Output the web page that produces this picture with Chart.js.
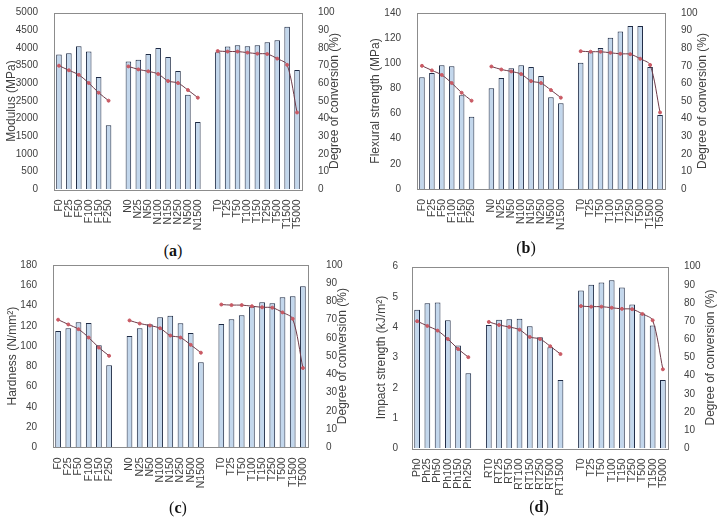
<!DOCTYPE html>
<html lang="en">
<head>
<meta charset="UTF-8">
<title>Degree of conversion vs. mechanical properties</title>
<script src="https://cdn.jsdelivr.net/npm/chart.js"></script>
<style>
body { margin: 0; background: #fff; width: 726px; height: 519px; position: relative; overflow: hidden; }
canvas { position: absolute; }
.cap { position: absolute; font-family: "Liberation Serif", serif; font-size: 16px; line-height: 18px; transform: translateX(-50%); color: #111; }
</style>
</head>
<body>

<canvas id="chartA" width="363" height="240" style="left:0;top:0"></canvas>
<canvas id="chartB" width="363" height="240" style="left:363px;top:0"></canvas>
<canvas id="chartC" width="363" height="240" style="left:0;top:260px"></canvas>
<canvas id="chartD" width="363" height="240" style="left:363px;top:260px"></canvas>

<div class="cap" style="left:173px;top:242px">(<b>a</b>)</div>
<div class="cap" style="left:526px;top:239px">(<b>b</b>)</div>
<div class="cap" style="left:178px;top:499px">(<b>c</b>)</div>
<div class="cap" style="left:539px;top:498px">(<b>d</b>)</div>

<script>

// sample groups
const groupF = ["F0", "F25", "F50", "F100", "F150", "F250"];
const groupN = ["N0", "N25", "N50", "N100", "N150", "N250", "N500", "N1500"];
const groupT = ["T0", "T25", "T50", "T100", "T150", "T250", "T500", "T1500", "T5000"];
const groupPh = ["Ph0", "Ph25", "Ph50", "Ph100", "Ph150", "Ph250"];
const groupRT = ["RT0", "RT25", "RT50", "RT100", "RT150", "RT250", "RT500", "RT1500"];

// degree of conversion (%), same for every panel
const docF = [70, 67.4, 64.8, 60.2, 54.7, 50.2];
const docN = [69.6, 67.9, 66.8, 65.3, 61.3, 60.2, 56.2, 51.9];
const docT = [78.3, 78, 78, 77.4, 76.8, 76.6, 74, 70.5, 43.5];

// (a) modulus, MPa
const modulusF = [3820, 3850, 4050, 3900, 3180, 1810];
const modulusN = [3620, 3670, 3830, 4000, 3745, 3350, 2680, 1905];
const modulusT = [3880, 4040, 4075, 4050, 4075, 4160, 4220, 4605, 3380];

// (b) flexural strength, MPa
const flexF = [88.8, 92.3, 98.4, 97.6, 74.5, 57.5];
const flexN = [80.1, 88.3, 96, 98.4, 97, 89.9, 72.9, 68.2];
const flexT = [100.5, 108.7, 112.2, 120.4, 125.2, 129.7, 129.7, 97, 58.9];

// (c) hardness, N/mm2
const hardF = [114.8, 117.5, 123.4, 122.7, 100.7, 80.9];
const hardN = [109.9, 117.5, 121.4, 128.3, 130, 122.4, 112.9, 83.9];
const hardT = [121.8, 126.4, 130.3, 138.9, 143.1, 142.2, 148.1, 149.1, 158.9];

// (d) impact strength, kJ/m2
const impactPh = [4.58, 4.79, 4.82, 4.23, 3.40, 2.48];
const impactRT = [4.07, 4.25, 4.26, 4.28, 4.03, 3.67, 3.34, 2.26];
const impactT = [5.21, 5.40, 5.48, 5.55, 5.31, 4.75, 4.45, 4.06, 2.26];


// three groups with one empty slot between them
function join3(a, b, c, gap) {
    return [...a, gap, ...b, gap, ...c];
}

const TICK_FONT = { family: "Liberation Sans, Arial, sans-serif", size: 10 };
const TITLE_FONT = { family: "Liberation Sans, Arial, sans-serif", size: 12 };
const TEXT = "#404040";

function makePanel(id, cats, bars, yMax, yStep, yTitle, geo) {
    const canvas = document.getElementById(id);
    const W = canvas.width, H = canvas.height;

    const framePlugin = {
        id: "frame" + id,
        afterDraw(chart) {
            const a = chart.chartArea, c = chart.ctx;
            c.save();
            c.strokeStyle = "#8c8c8c";
            c.lineWidth = 1;
            c.strokeRect(Math.round(a.left) + 0.5, Math.round(a.top) + 0.5,
                Math.round(a.right - a.left), Math.round(a.bottom - a.top));
            // right axis title reads bottom to top
            c.translate(geo.rTitleX, (a.top + a.bottom) / 2);
            c.rotate(-Math.PI / 2);
            c.font = "12px 'Liberation Sans', Arial, sans-serif";
            c.fillStyle = TEXT;
            c.textAlign = "center";
            c.textBaseline = "middle";
            c.fillText("Degree of conversion (%)", 0, 0);
            c.restore();
        }
    };

    new Chart(canvas, {
        data: {
            labels: cats,
            datasets: [
                {
                    type: "line",
                    data: join3(docF, docN, docT, null),
                    yAxisID: "y1",
                    borderColor: "#6e3a48",
                    borderWidth: 1,
                    pointRadius: 1.5,
                    pointBackgroundColor: "#c95a64",
                    pointBorderColor: "#c95a64",
                    tension: 0.3,
                    spanGaps: false,
                    order: 0
                },
                {
                    type: "bar",
                    data: bars,
                    yAxisID: "y",
                    backgroundColor: "#c3d7ec",
                    borderColor: "#1e2b45",
                    borderWidth: 1,
                    barPercentage: 0.56,
                    categoryPercentage: 1,
                    order: 1
                }
            ]
        },
        options: {
            responsive: false,
            animation: false,
            layout: { padding: { top: geo.top, left: 0, right: 0, bottom: 0 } },
            plugins: { legend: { display: false }, tooltip: { enabled: false } },
            scales: {
                x: {
                    grid: { display: false },
                    border: { display: false },
                    ticks: {
                        autoSkip: false, minRotation: 90, maxRotation: 90,
                        padding: 2, color: TEXT, font: { ...TICK_FONT, size: 10.5 }
                    },
                    afterFit: s => { s.height = H - geo.bottom; s.paddingLeft = 0; s.paddingRight = 0; }
                },
                y: {
                    position: "left",
                    min: 0, max: yMax,
                    grid: { display: false },
                    border: { display: false },
                    ticks: { stepSize: yStep, padding: geo.lTickPad, color: TEXT, font: TICK_FONT, callback: v => String(v) },
                    title: {
                        display: true, text: yTitle, color: TEXT, font: TITLE_FONT,
                        padding: { top: geo.lTitlePad, bottom: 0 }
                    },
                    afterFit: s => { s.width = geo.left; s.paddingTop = 0; s.paddingBottom = 0; }
                },
                y1: {
                    position: "right",
                    min: 0, max: 100,
                    grid: { display: false },
                    border: { display: false },
                    ticks: { stepSize: 10, padding: geo.rTickPad, color: TEXT, font: TICK_FONT, callback: v => String(v) },
                    afterFit: s => { s.width = W - geo.right; s.paddingTop = 0; s.paddingBottom = 0; }
                }
            }
        },
        plugins: [framePlugin]
    });
}

const catsFNT = join3(groupF, groupN, groupT, "");
const catsPRT = join3(groupPh, groupRT, groupT, "");

makePanel("chartA", catsFNT, join3(modulusF, modulusN, modulusT, null), 5000, 500, "Modulus (MPa)",
    { left: 54, right: 302, top: 12.7, bottom: 189.3, lTitlePad: 4.8, rTitleX: 335, lTickPad: 8, rTickPad: 8 });

makePanel("chartB", catsFNT, join3(flexF, flexN, flexT, null), 140, 20, "Flexural strength (MPa)",
    { left: 54, right: 302, top: 13, bottom: 189, lTitlePad: 5.8, rTitleX: 340, lTickPad: 8, rTickPad: 8 });

makePanel("chartC", catsFNT, join3(hardF, hardN, hardT, null), 180, 20, "Hardness (N/mm²)",
    { left: 53, right: 308, top: 5, bottom: 187.3, lTitlePad: 5.8, rTitleX: 343, lTickPad: 8, rTickPad: 10 });

makePanel("chartD", catsPRT, join3(impactPh, impactRT, impactT, null), 6, 1, "Impact strength (kJ/m²)",
    { left: 49, right: 305, top: 6.7, bottom: 188.3, lTitlePad: 11.8, rTitleX: 348, lTickPad: 6, rTickPad: 8 });

</script>
</body>
</html>
